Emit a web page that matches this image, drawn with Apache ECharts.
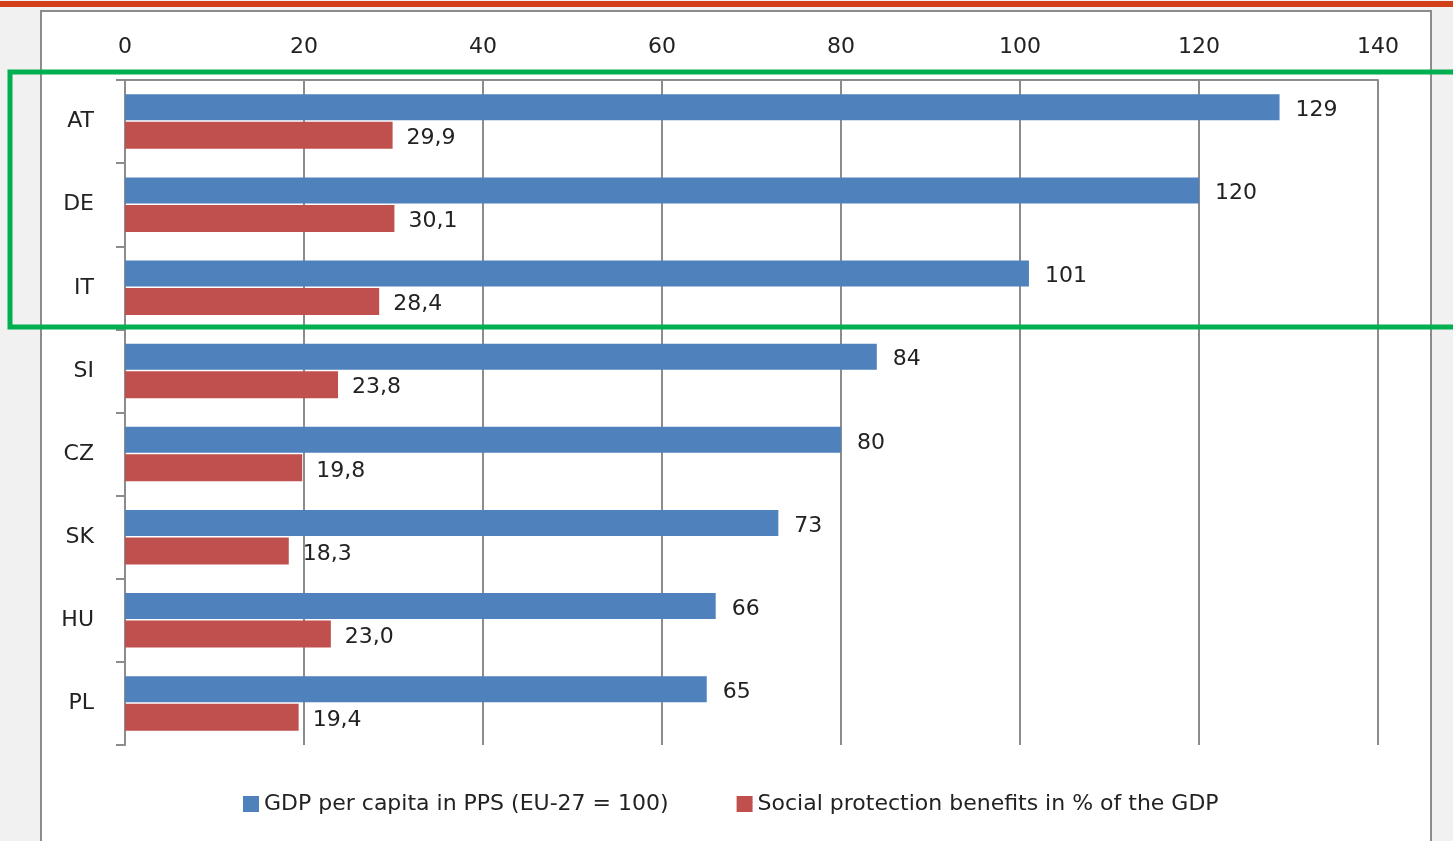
<!DOCTYPE html>
<head>
    <meta charset="utf-8"/>
<style>
html,body{margin:0;padding:0;background:#f1f1f1;}
</style>
</head>
<body>
<div id="main" style="width:1453px;height:841px;"></div>
<script src="https://cdn.jsdelivr.net/npm/echarts@6/dist/echarts.min.js"></script>
<script type="text/javascript">
 // categories, top to bottom
 var countries = ['AT','DE','IT','SI','CZ','SK','HU','PL'];
 // GDP per capita in PPS (EU-27 = 100)
 var gdpValues = [129,120,101,84,80,73,66,65];
 // social protection benefits in % of the GDP
 var socialValues = [29.9,30.1,28.4,23.8,19.8,18.3,23.0,19.4];
 var xTicks = [0,20,40,60,80,100,120,140];

 var fontName = 'DejaVu Sans';
 var myChart = echarts.init(document.getElementById('main'));

 var options = {
    animation:false,
    backgroundColor:'transparent',
    textStyle:{fontFamily:fontName},
    graphic:[
        {type:'rect',z:-10,shape:{x:41,y:11,width:1390,height:840},
         style:{fill:'#fff',stroke:'#8c8c8c',lineWidth:2}},
        {type:'rect',z:-5,shape:{x:0,y:1,width:1453,height:6},
         style:{fill:'#d2401a'}},
        {type:'rect',z:100,shape:{x:10,y:72,width:1460,height:255},
         style:{fill:'none',stroke:'#00b050',lineWidth:5}}
    ],
    grid:{left:125,right:75,top:80,bottom:96},
    legend:{
        bottom:21,
        left:238,
        itemWidth:16,
        itemHeight:16,
        itemGap:68,
        icon:'rect',
        textStyle:{fontSize:22,color:'#222',fontFamily:fontName},
        data:['GDP per capita in PPS (EU-27 = 100)','Social protection benefits in % of the GDP']
    },
    xAxis:{
        type:'value',
        position:'top',
        min:0,
        max:140,
        interval:20,
        axisLine:{show:true,lineStyle:{color:'#8c8c8c',width:2}},
        axisTick:{show:false},
        axisLabel:{
            margin:22,
            fontSize:22,
            color:'#222',
            formatter:function(v){return xTicks.indexOf(v)>=0?String(v):'';}
        },
        splitLine:{show:true,lineStyle:{color:'#8c8c8c',width:2}}
    },
    yAxis:{
        type:'category',
        inverse:true,
        data:countries,
        axisLine:{show:true,lineStyle:{color:'#8c8c8c',width:2}},
        axisTick:{show:true,length:9,lineStyle:{color:'#8c8c8c',width:2}},
        axisLabel:{margin:31,fontSize:22,color:'#222'}
    },
    series:[{
        name:'GDP per capita in PPS (EU-27 = 100)',
        type:'bar',
        data:gdpValues,
        barWidth:26,
        barGap:'6%',
        itemStyle:{color:'#4f81bd'},
        label:{show:true,position:'right',distance:16,offset:[0,3],fontSize:22,color:'#222',
            formatter:function(p){return String(p.value);}}
    },{
        name:'Social protection benefits in % of the GDP',
        type:'bar',
        data:socialValues,
        barWidth:27,
        barGap:'6%',
        itemStyle:{color:'#c0504d'},
        label:{show:true,position:'right',distance:14,offset:[0,3],fontSize:22,color:'#222',
            formatter:function(p){return p.value.toFixed(1).replace('.',',');}}
    }]
 };
 myChart.setOption(options);
</script>
</body>
